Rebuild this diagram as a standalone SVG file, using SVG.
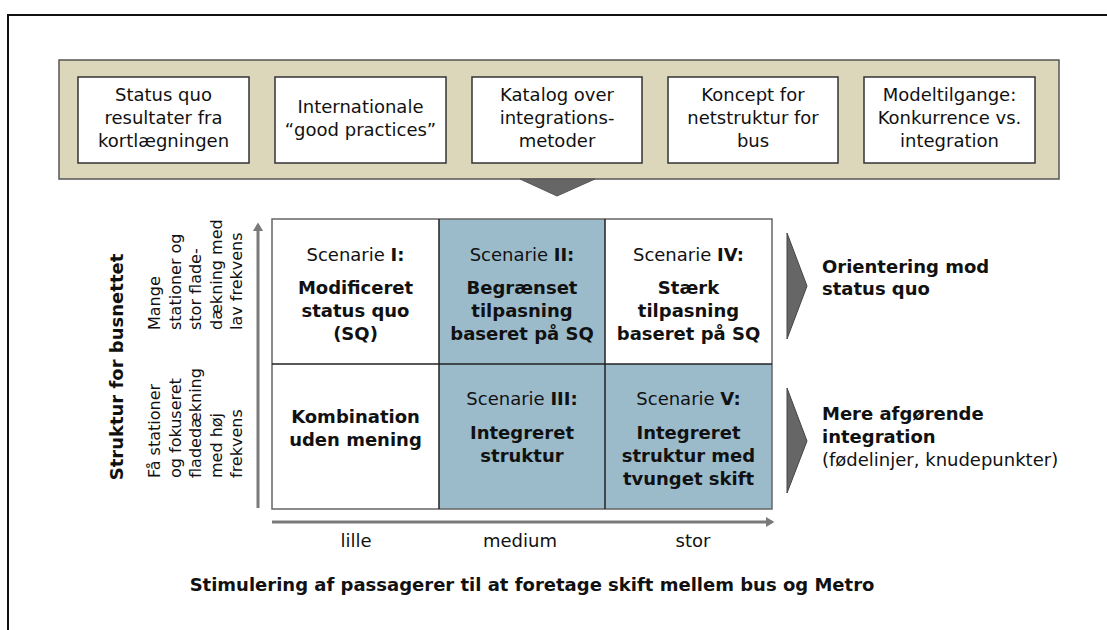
<svg xmlns="http://www.w3.org/2000/svg" width="1107" height="630" viewBox="0 0 1107 630">
  <style>
    text { font-family: "DejaVu Sans", Verdana, sans-serif; fill: #111; }
    .t18 { font-size: 18px; }
    .t16 { font-size: 16px; }
    .b { font-weight: bold; }
    .mid { text-anchor: middle; }
    .box { fill: #ffffff; stroke: #333333; stroke-width: 1.5; }
    .bar { fill: #DCD6BA; stroke: #555555; stroke-width: 1.5; }
    .cellw { fill: #ffffff; }
    .cellb { fill: #9BBBCB; }
    .chev { fill: #666666; stroke: #444444; stroke-width: 1; }
    .axis { stroke: #7a7a7a; stroke-width: 3; fill: none; }
  </style>
  <defs>
    <marker id="ah" markerWidth="4" markerHeight="4" refX="2" refY="2" orient="auto" markerUnits="strokeWidth">
      <path d="M0,0.3 L2.8,2 L0,3.7 Z" fill="#7a7a7a"/>
    </marker>
  </defs>

  <g id="frame">
    <path d="M8,630 L8,15 L1107,15" fill="none" stroke="#111" stroke-width="2"/>
  </g>

  <g id="inputs">
    <rect class="bar" x="59" y="60" width="1000" height="119"/>
    <polygon points="520,179 595,179 557,196" fill="#666666" stroke="#555" stroke-width="1"/>
  </g>

  <g id="box1">
    <rect class="box" x="78" y="77" width="171" height="86"/>
    <text class="t18 mid" x="163.5" y="101">Status quo</text>
    <text class="t18 mid" x="163.5" y="124">resultater fra</text>
    <text class="t18 mid" x="163.5" y="147">kortlægningen</text>
  </g>
  <g id="box2">
    <rect class="box" x="275" y="77" width="171" height="86"/>
    <text class="t18 mid" x="360.5" y="113">Internationale</text>
    <text class="t18 mid" x="360.5" y="136">“good practices”</text>
  </g>
  <g id="box3">
    <rect class="box" x="472" y="77" width="170" height="86"/>
    <text class="t18 mid" x="557" y="101">Katalog over</text>
    <text class="t18 mid" x="557" y="124">integrations-</text>
    <text class="t18 mid" x="557" y="147">metoder</text>
  </g>
  <g id="box4">
    <rect class="box" x="668" y="77" width="170" height="86"/>
    <text class="t18 mid" x="753" y="101">Koncept for</text>
    <text class="t18 mid" x="753" y="124">netstruktur for</text>
    <text class="t18 mid" x="753" y="147">bus</text>
  </g>
  <g id="box5">
    <rect class="box" x="864" y="77" width="171" height="86"/>
    <text class="t18 mid" x="949.5" y="101">Modeltilgange:</text>
    <text class="t18 mid" x="949.5" y="124">Konkurrence vs.</text>
    <text class="t18 mid" x="949.5" y="147">integration</text>
  </g>

  <g id="cell-I">
    <rect class="cellw" x="272" y="219" width="167" height="145"/>
    <text class="t18 mid" x="355.5" y="261">Scenarie <tspan class="b">I:</tspan></text>
    <text class="t18 mid b" x="355.5" y="294">Modificeret</text>
    <text class="t18 mid b" x="355.5" y="317">status quo</text>
    <text class="t18 mid b" x="355.5" y="340">(SQ)</text>
  </g>
  <g id="cell-II">
    <rect class="cellb" x="439" y="219" width="166" height="145"/>
    <text class="t18 mid" x="522" y="261">Scenarie <tspan class="b">II:</tspan></text>
    <text class="t18 mid b" x="522" y="294">Begrænset</text>
    <text class="t18 mid b" x="522" y="317">tilpasning</text>
    <text class="t18 mid b" x="522" y="340">baseret på SQ</text>
  </g>
  <g id="cell-IV">
    <rect class="cellw" x="605" y="219" width="167" height="145"/>
    <text class="t18 mid" x="688.5" y="261">Scenarie <tspan class="b">IV:</tspan></text>
    <text class="t18 mid b" x="688.5" y="294">Stærk</text>
    <text class="t18 mid b" x="688.5" y="317">tilpasning</text>
    <text class="t18 mid b" x="688.5" y="340">baseret på SQ</text>
  </g>
  <g id="cell-none">
    <rect class="cellw" x="272" y="364" width="167" height="145"/>
    <text class="t18 mid b" x="355.5" y="423">Kombination</text>
    <text class="t18 mid b" x="355.5" y="446">uden mening</text>
  </g>
  <g id="cell-III">
    <rect class="cellb" x="439" y="364" width="166" height="145"/>
    <text class="t18 mid" x="522" y="405">Scenarie <tspan class="b">III:</tspan></text>
    <text class="t18 mid b" x="522" y="439">Integreret</text>
    <text class="t18 mid b" x="522" y="462">struktur</text>
  </g>
  <g id="cell-V">
    <rect class="cellb" x="605" y="364" width="167" height="145"/>
    <text class="t18 mid" x="688.5" y="405">Scenarie <tspan class="b">V:</tspan></text>
    <text class="t18 mid b" x="688.5" y="439">Integreret</text>
    <text class="t18 mid b" x="688.5" y="462">struktur med</text>
    <text class="t18 mid b" x="688.5" y="485">tvunget skift</text>
  </g>

  <g id="grid-lines" fill="none">
    <rect x="272" y="219" width="500" height="290" stroke="#666" stroke-width="1.5"/>
    <line x1="439" y1="219" x2="439" y2="509" stroke="#222" stroke-width="1.5"/>
    <line x1="605" y1="219" x2="605" y2="509" stroke="#222" stroke-width="1.5"/>
    <line x1="272" y1="364" x2="772" y2="364" stroke="#222" stroke-width="1.5"/>
  </g>

  <g id="connectors">
    <line class="axis" x1="258" y1="508" x2="258" y2="225" marker-end="url(#ah)"/>
    <line class="axis" x1="272" y1="522" x2="772" y2="522" marker-end="url(#ah)"/>
  </g>

  <g id="y-axis-labels">
    <text class="t18 b mid" transform="translate(123,367) rotate(-90)">Struktur for busnettet</text>
    <g transform="translate(0,330) rotate(-90)">
      <text class="t16" x="0" y="160">Mange</text>
      <text class="t16" x="0" y="180.5">stationer og</text>
      <text class="t16" x="0" y="201">stor flade-</text>
      <text class="t16" x="0" y="221.5">dækning med</text>
      <text class="t16" x="0" y="242">lav frekvens</text>
    </g>
    <g transform="translate(0,478) rotate(-90)">
      <text class="t16" x="0" y="160">Få stationer</text>
      <text class="t16" x="0" y="180.5">og fokuseret</text>
      <text class="t16" x="0" y="201">fladedækning</text>
      <text class="t16" x="0" y="221.5">med høj</text>
      <text class="t16" x="0" y="242">frekvens</text>
    </g>
  </g>

  <g id="x-axis-labels">
    <text class="t18 mid" x="356" y="547">lille</text>
    <text class="t18 mid" x="520" y="547">medium</text>
    <text class="t18 mid" x="693" y="547">stor</text>
    <text class="t18 b mid" x="532" y="591">Stimulering af passagerer til at foretage skift mellem bus og Metro</text>
  </g>

  <g id="outcome-sq">
    <polygon class="chev" points="787,233 807,286 787,339"/>
    <text class="t18 b" x="822" y="273">Orientering mod</text>
    <text class="t18 b" x="822" y="295">status quo</text>
  </g>
  <g id="outcome-integration">
    <polygon class="chev" points="787,388 807,441 787,493"/>
    <text class="t18 b" x="822" y="420">Mere afgørende</text>
    <text class="t18 b" x="822" y="443">integration</text>
    <text class="t18" x="822" y="466">(fødelinjer, knudepunkter)</text>
  </g>
</svg>
